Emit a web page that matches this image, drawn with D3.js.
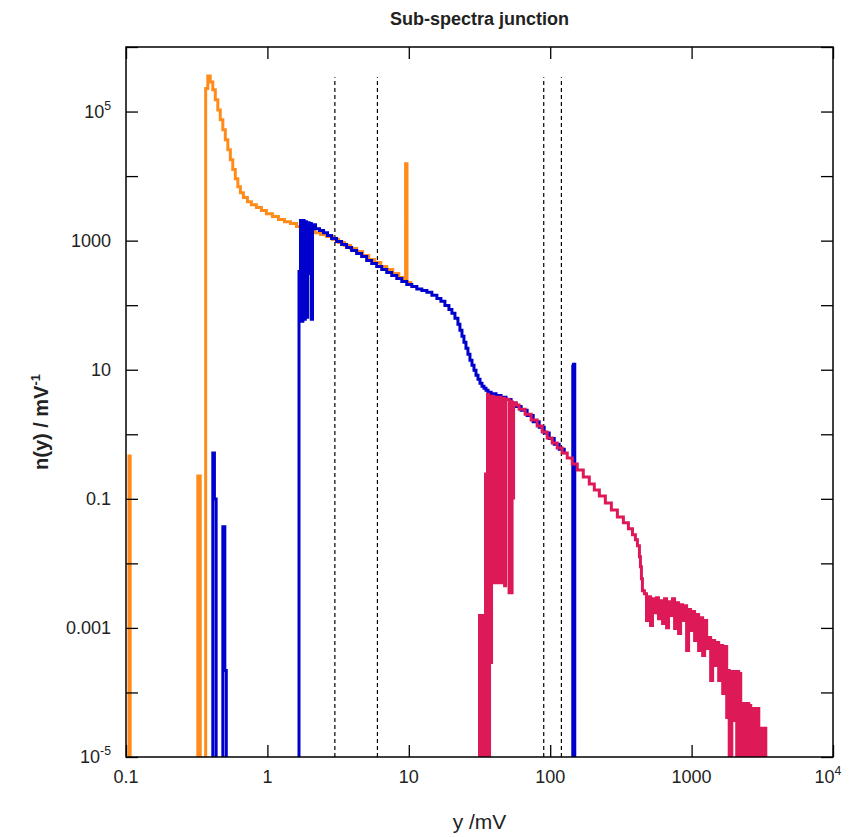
<!DOCTYPE html>
<html><head><meta charset="utf-8">
<script src="https://cdn.jsdelivr.net/npm/d3@7"></script>
<style>
body{margin:0;background:#fff}
svg{display:block}
text{font-family:"Liberation Sans",Arial,Helvetica,sans-serif;fill:#222}
</style>
</head><body>
<svg id="chart" width="854" height="837"></svg>
<script>
// ---------- data ----------
const title = "Sub-spectra junction";
const xTitle = "y /mV";
const yTitleMain = "n(y) / mV";
const yTitleSup = "-1";

const xTicks = [0.1, 1, 10, 100, 1000, 10000];
const xTickLabels = ["0.1", "1", "10", "100", "1000", "10^4"];
const yTicks = [1e-5, 1e-4, 1e-3, 1e-2, 1e-1, 1, 10, 100, 1000, 1e4, 1e5, 1e6];
const yLabelValues = [1e-5, 1e-3, 1e-1, 10, 1000, 1e5];
const yTickLabels = ["10^-5", "0.001", "0.1", "10", "1000", "10^5"];

const junctionCuts = [3, 6, 90, 120];
const junctionTop = 3.4e5;
const floorValue = 1e-5;

// orange sub-spectrum (low range), [y mV, n(y)], null = break
const orange = [
  [0.105,1e-5],[0.105,0.46],[0.107,1e-5], null,
  [0.322,1e-5],[0.322,0.226],[0.335,1e-5], null,
  [0.366,1e-5],[0.366,2.27e5],[0.379,3.56e5],[0.394,2.88e5],[0.411,2.17e5],[0.428,1.52e5],[0.446,1.06e5],
  [0.464,7.44e4],[0.484,5.21e4],[0.504,3.65e4],[0.525,2.56e4],[0.547,1.79e4],[0.569,1.26e4],[0.593,9.12e3],
  [0.618,6.86e3],[0.644,5.54e3],[0.676,4.64e3],[0.722,4.02e3],[0.770,3.61e3],[0.836,3.25e3],[0.907,2.92e3],
  [0.984,2.62e3],[1.085,2.36e3],[1.197,2.12e3],[1.320,1.97e3],[1.456,1.84e3],[1.606,1.65e3],[1.771,1.54e3],
  [1.954,1.43e3],[2.154,1.33e3],[2.376,1.24e3],[2.621,1.16e3],[2.891,1.04e3],[3.188,935],[3.517,840],
  [3.879,755],[4.278,679],[4.718,588],[5.204,511],[5.740,459],[6.330,398],[6.982,358],[7.700,310],
  [8.495,269],[9.066,242],[9.491,1.55e4],[9.710,225],[10.33,210]
];

// blue sub-spectrum (middle range)
const blue = [
  [0.411,1e-5],[0.411,0.512],[0.422,0.0996],[0.434,1e-5], null,
  [0.484,1e-5],[0.484,0.0368],[0.500,2.19e-4],[0.512,1e-5], null,
  [1.673,1e-5],[1.673,333],[1.714,2.05e3],[1.748,56.2],[1.783,2.05e3],[1.818,60.3],[1.854,1.97e3],
  [1.890,64.8],[1.928,1.90e3],[1.966,310],[2.005,1.84e3],[2.045,60.3],[2.085,1.77e3],
  [2.190,1.53e3],[2.338,1.43e3],[2.496,1.33e3],[2.664,1.20e3],[2.844,1.08e3],[3.085,967],[3.348,870],
  [3.634,781],[3.941,702],[4.278,631],[4.642,567],[5.036,492],[5.465,442],[5.930,397],[6.435,357],
  [6.982,321],[7.576,288],[8.221,259],[8.920,233],[9.678,209],[10.50,195],[11.39,178],[12.37,169],
  [13.42,158],[14.56,142],[15.80,127],[16.87,115],[18.00,99.3],[19.22,86.1],[20.18,74.7],[21.20,62.5],
  [22.26,50.5],[22.99,40.8],[23.77,33.0],[24.55,26.6],[25.37,21.5],[26.20,17.4],[27.07,14.0],[27.98,11.7],
  [28.91,9.82],[29.87,8.22],[30.86,7.13],[31.88,6.18],[32.94,5.56],[34.03,5.18],[35.16,4.82],[36.33,4.49],
  [38.2,4.25],[41.4,4.0],[44.9,3.75],[48.7,3.45],[52.9,3.05],[57.4,2.7],[62.3,2.35],[68.7,1.95],
  [75.8,1.57],[83.6,1.28],[90.7,1.05],[98.4,0.86],[106.8,0.70],[115.8,0.585],[125.7,0.49], null,
  [144.4,1e-5],[144.4,11.3],[146.0,12.2],[149.2,1e-5]
];

// red sub-spectrum (high range)
const red = [
  [31.62,1e-5],[31.62,1.55e-3],[32.14,1e-5],[32.67,1.55e-3],[33.21,1e-5],[33.76,1.55e-3],[34.31,1e-5],
  [34.88,0.243],[35.45,1e-5],[36.04,4.18],[36.63,1e-5],[37.24,3.89],[37.85,2.91e-4],[38.47,3.89],
  [39.11,5.01e-3],[39.75,3.76],[40.41,5.01e-3],[41.07,3.76],[41.75,5.01e-3],[42.44,3.76],[43.13,5.01e-3],
  [43.84,3.76],[44.57,5.01e-3],[45.30,3.63],[46.04,5.01e-3],[46.80,3.63],[47.57,4.51e-3],[48.36,3.50],
  [51.18,3.51e-3],[52.03,3.26],[52.89,3.51e-3],[53.76,3.15],[54.20,0.103],[55.10,3.04],[57.5,2.83],
  [60.27,2.45],[66.47,2.05],[73.33,1.66],[80.88,1.34],[87.76,1.08],[95.21,0.874],[103.3,0.731],
  [112.1,0.612],[121.6,0.512],[132.0,0.429],[143.2,0.346],[155.4,0.280],[171.4,0.218],[189.0,0.170],
  [205.1,0.137],[222.6,0.111],[245.5,0.0864],[270.8,0.0674],[298.6,0.0525],[329.3,0.0424],[357.4,0.0343],
  [381.8,0.0277],[400.6,0.0232],[413.9,0.0187],[427.6,0.0127],[434.6,8.86e-3],[441.8,5.78e-3],[449.1,3.77e-3],
  [464,3.39e-3],[480,1.30e-3],[496,3.05e-3],[512,1.09e-3],[529,2.84e-3],[547,1.72e-3],[565,2.94e-3],
  [583,1.39e-3],[603,2.64e-3],[623,1.17e-3],[644,2.84e-3],[665,1.01e-3],[687,2.55e-3],[709,1.55e-3],
  [733,2.84e-3],[758,9.76e-4],[783,2.46e-3],[809,8.17e-4],[836,2.29e-3],[864,1.30e-3],[892,2.21e-3],
  [922,4.46e-4],[952,1.92e-3],[983,9.08e-4],[1016,1.79e-3],[1050,6.36e-4],[1085,1.61e-3],[1121,4.46e-4],
  [1158,1.44e-3],[1197,3.73e-4],[1237,1.30e-3],[1278,4.79e-4],[1320,7.08e-4],[1364,1.53e-4],[1409,6.36e-4],
  [1456,2.62e-4],[1504,5.92e-4],[1554,1.53e-4],[1606,5.33e-4],[1659,9.65e-5],[1714,5.14e-4],[1771,4.11e-5],
  [1815,2.19e-4],[1845,1e-5],[1875,2.04e-4],[1922,1e-5],[1925,2.11e-4],[2002,3.69e-5],[2085,1e-5],
  [2088,2.11e-4],[2154,1e-5],[2190,1.97e-4],[2226,1e-5],[2262,6.76e-5],[2299,1e-5],[2338,6.76e-5],
  [2377,1e-5],[2416,6.30e-5],[2455,1e-5],[2496,6.76e-5],[2537,1e-5],[2578,6.30e-5],[2620,1e-5],
  [2663,5.66e-5],[2707,1e-5],[2752,5.66e-5],[2798,1e-5],[2844,5.66e-5],[2891,1e-5],[2939,5.66e-5],
  [2987,1e-5],[3036,2.78e-5],[3086,1e-5],[3137,2.78e-5],[3188,1e-5],[3241,2.78e-5],[3348,1e-5]
];

const seriesColors = {orange:"#ff8c1a", blue:"#0000cc", red:"#dd1a57"};

// ---------- chart ----------
const svg = d3.select("#chart");
const L = 126, R = 833, T = 47, B = 757;
const x = d3.scaleLog().domain([0.1, 1e4]).range([L, R]);
const y = d3.scaleLog().domain([1e-5, 1e6]).range([B, T]);

svg.append("defs").append("clipPath").attr("id","plotclip")
  .append("rect").attr("x",L).attr("y",T).attr("width",R-L).attr("height",B-T);

const plot = svg.append("g").attr("clip-path","url(#plotclip)");

// dashed junction lines
plot.selectAll("line.cut").data(junctionCuts).enter().append("line")
  .attr("class","cut")
  .attr("x1",d=>x(d)).attr("x2",d=>x(d))
  .attr("y1",y(floorValue)).attr("y2",y(junctionTop))
  .attr("stroke","#000").attr("stroke-width",1.2).attr("stroke-dasharray","4,3");

const line = d3.line()
  .defined(d => d !== null)
  .x(d => x(d[0])).y(d => y(d[1]))
  .curve(d3.curveStepAfter);

[["orange",orange],["blue",blue],["red",red]].forEach(([k,data])=>{
  plot.append("path").datum(data)
    .attr("d", line)
    .attr("fill","none")
    .attr("stroke", seriesColors[k])
    .attr("stroke-width", 3)
    .attr("stroke-linejoin","miter")
    .attr("stroke-linecap","butt");
});

// axes (ticks inward on all four sides)
function styleAxis(g){
  g.select(".domain").remove();
  g.selectAll(".tick line").attr("stroke","#000").attr("stroke-width",1.3);
  g.selectAll(".tick text").remove();
}
svg.append("g").attr("transform",`translate(0,${B})`)
  .call(d3.axisBottom(x).tickValues(xTicks).tickSizeInner(-12).tickSizeOuter(0)).call(styleAxis);
svg.append("g").attr("transform",`translate(0,${T})`)
  .call(d3.axisTop(x).tickValues(xTicks).tickSizeInner(-12).tickSizeOuter(0)).call(styleAxis);
svg.append("g").attr("transform",`translate(${L},0)`)
  .call(d3.axisLeft(y).tickValues(yTicks).tickSizeInner(-12).tickSizeOuter(0)).call(styleAxis);
svg.append("g").attr("transform",`translate(${R},0)`)
  .call(d3.axisRight(y).tickValues(yTicks).tickSizeInner(-12).tickSizeOuter(0)).call(styleAxis);

svg.append("rect").attr("x",L).attr("y",T).attr("width",R-L).attr("height",B-T)
  .attr("fill","none").attr("stroke","#000").attr("stroke-width",1.5);

function supText(g, str, px, py, anchor, size){
  const t = g.append("text").attr("x",px).attr("y",py).attr("text-anchor",anchor)
    .attr("font-size",size);
  const parts = str.split("^");
  t.append("tspan").text(parts[0]);
  if (parts.length > 1) {
    t.append("tspan").attr("dy",-size*0.42).attr("font-size",size*0.68).text(parts[1]);
  }
  return t;
}

const tickFont = 18;
xTicks.forEach((v,i)=>{
  const lab = xTickLabels[i];
  supText(svg, lab, x(v) - (lab.includes("^") ? 5 : 0), B + 26, "middle", tickFont);
});
yLabelValues.forEach((v,i)=>{
  supText(svg, yTickLabels[i], L - 15, y(v) + 6, "end", tickFont);
});

// titles
svg.append("text").attr("x",(L+R)/2).attr("y",25).attr("text-anchor","middle")
  .attr("font-size",18).attr("font-weight","bold").text(title);
svg.append("text").attr("x",(L+R)/2).attr("y",829).attr("text-anchor","middle")
  .attr("font-size",21).text(xTitle);
const yt = svg.append("text").attr("transform",`translate(48,${(T+B)/2 + 20}) rotate(-90)`)
  .attr("text-anchor","middle").attr("font-size",20).attr("font-weight","bold");
yt.append("tspan").text(yTitleMain);
yt.append("tspan").attr("dy",-8).attr("font-size",13).text(yTitleSup);
</script>
</body></html>
